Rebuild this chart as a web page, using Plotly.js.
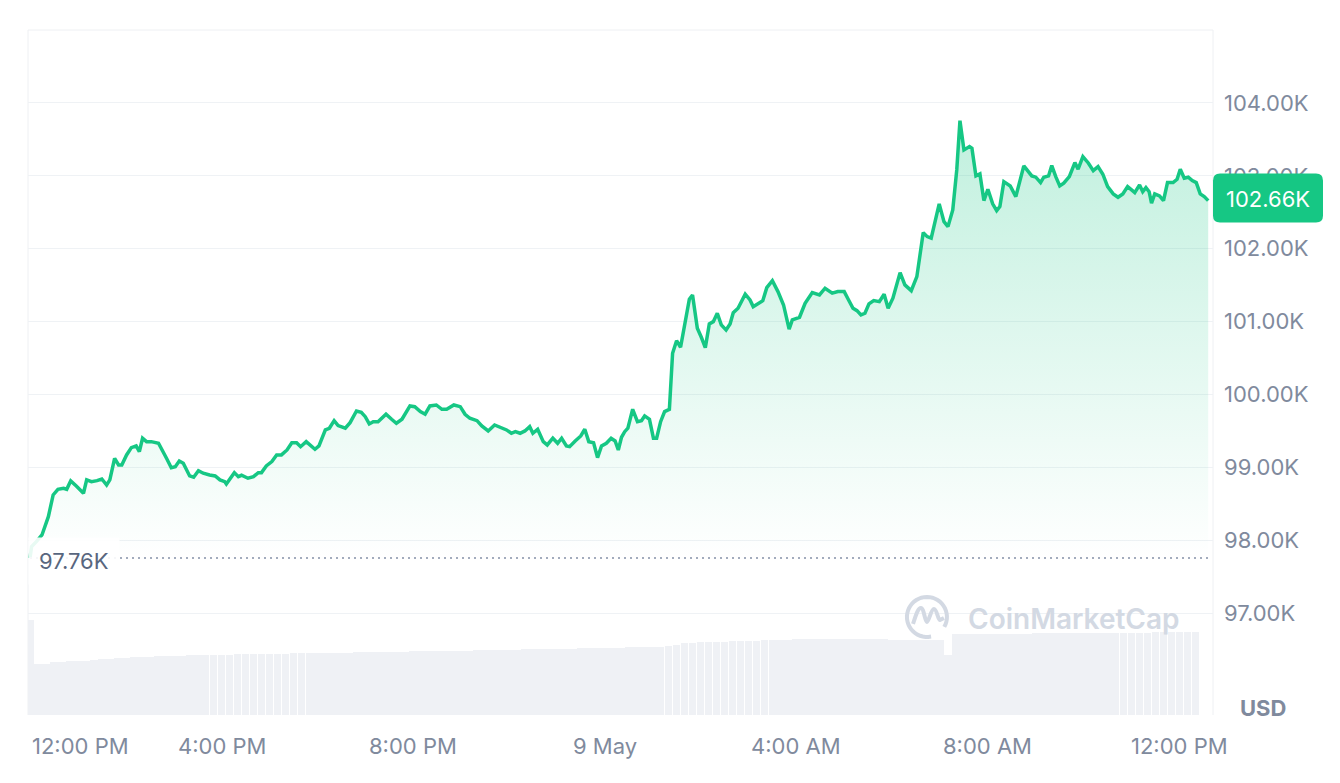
<!DOCTYPE html>
<html><head><meta charset="utf-8">
<script src="https://cdn.plot.ly/plotly-3.0.1.min.js"></script>
<style>html,body{margin:0;padding:0;background:#fff;}#chart{width:1340px;height:783px;}</style>
</head><body><div id="chart"></div>
<script>
// minutes after 8 May 12:00 PM
const priceMinutes = [0,2,8,15,23,29,35,42,46,51,58,67,71,77,84,90,96,100,106,111,115,121,127,133,137,141,146,152,161,167,171,177,182,187,192,200,205,211,217,225,232,238,244,
246,256,261,265,273,280,286,290,296,303,309,315,322,328,334,339,346,351,357,362,370,375,381,386,395,401,409,415,420,425,430,436,446,453,459,466,471,476,482,489,
495,501,509,516,522,531,539,545,551,560,566,574,582,591,597,603,608,614,620,626,630,636,643,648,655,661,666,672,676,683,690,695,700,706,711,716,722,728,733,737,741,745,
749,755,761,766,770,776,781,785,790,795,801,805,810,815,820,826,830,836,841,846,851,856,861,866,872,877,881,887,896,902,906,912,918,923,930,937,944,951,955,964,971,980,989,996,
1005,1012,1020,1025,1031,1036,1041,1046,1051,1057,1064,1070,1075,1081,1090,1096,1104,1111,1119,1124,1129,1139,1145,1150,1156,1161,1165,1170,1177,1180,1185,1190,1195,1200,1206,1211,1215,1220,1228,1235,1240,
1245,1255,1260,1266,1270,1276,1280,1285,1290,1295,1302,1309,1313,1319,1326,1332,1338,1344,1350,1357,1363,1369,1375,1380,1384,1390,1394,1398,1402,1405,1409,1415,1420,1425,1432,1437,1441,1446,1451,1456,1461,1466,1471,1476];
const priceValues = [97760,97914,97982,98074,98325,98623,98701,98715,98701,98815,98746,98646,98829,98805,98819,98842,98760,98829,99126,99034,99034,99172,99272,99295,99217,99401,99354,99354,99332,99195,99126,98997,99011,99089,99058,98884,98866,98956,98921,98897,98884,98829,98805,
98774,98929,98874,98893,98852,98874,98929,98929,99021,99080,99172,99172,99240,99340,99340,99285,99354,99309,99250,99295,99515,99538,99642,99574,99538,99615,99775,99757,99697,99597,99628,99628,99730,99661,99606,99661,99744,99844,99834,99766,
99730,99844,99857,99798,99798,99857,99834,99730,99675,99642,99569,99501,99583,99546,99515,99469,99491,99469,99501,99560,99469,99524,99354,99309,99401,99332,99401,99295,99285,99364,99432,99524,99354,99340,99135,99295,99332,99401,99364,99240,99414,99491,
99538,99798,99628,99642,99707,99661,99401,99401,99628,99766,99798,100567,100739,100649,100932,101307,101366,100910,100786,100643,100969,101000,101115,100955,100886,100969,101123,101184,101376,101298,101206,101243,101288,101466,101562,101412,101229,100896,101023,101060,101252,101398,101366,101458,
101390,101412,101412,101307,101184,101151,101092,101115,101243,101288,101274,101376,101184,101321,101672,101504,101425,101617,102221,102166,102144,102615,102372,102303,102532,103081,103757,103355,103401,103379,102999,103026,102660,102816,102615,102523,102578,102920,102861,102715,102934,
103136,102999,102981,102907,102981,102999,103140,102989,102861,102899,102989,103181,103091,103263,103173,103071,103126,103022,102852,102752,102706,102752,102852,102807,102770,102875,102783,102838,102783,102624,102752,102724,102660,102907,102907,102953,103091,102967,102981,102934,102907,102752,102715,102660];
// volume bars, one every 10 minutes (relative units)
const volumeValues = [95,51,51,53,53,54,54,54,55,56,56,57,57,58,58,58,59,59,59,59,60,60,60,60,60,60,61,61,61,61,61,
61,61,62,62,62,62,62,62,62,62,63,63,63,63,63,63,63,64,64,64,64,64,64,64,64,65,65,65,65,65,
65,66,66,66,66,66,66,66,67,67,67,67,67,67,68,68,68,68,68,69,70,72,72,73,73,73,73,74,74,74,
74,75,75,75,75,76,76,76,76,76,76,76,76,76,76,76,76,75,75,75,75,75,75,75,60,81,
81,81,81,81,81,81,81,81,81,82,82,82,82,82,82,82,82,82,82,82,82,82,82,82,83,83,83,83,83,83];
const volumeStepMinutes = 10;
const openPrice = 97760;
const lastPrice = 102660;
const yTickVals = [97000,98000,99000,100000,101000,102000,103000,104000];
const yTickText = ['97.00K','98.00K','99.00K','100.00K','101.00K','102.00K','103.00K','104.00K'];
const xTickMinutes = [0,240,480,720,960,1200,1440];
const xTickText = ['12:00 PM','4:00 PM','8:00 PM','9 May','4:00 AM','8:00 AM','12:00 PM'];

function toStamp(min){
  const base = Date.UTC(2025,4,8,12,0,0);
  return new Date(base + min*60000).toISOString().slice(0,19).replace('T',' ');
}
const px = priceMinutes.map(toStamp);
const vx = volumeValues.map((v,i)=>toStamp(i*volumeStepMinutes));
const endStamp = px[px.length-1];

const FONT = 'Inter, "Noto Sans", sans-serif';
const TICKC = '#808a9d';
const GREEN = '#16c784';
const FS = 22;

const traces = [
  {type:'bar', x:vx, y:volumeValues, yaxis:'y2', width:volumeStepMinutes*60000*0.97,
   marker:{color:'#eff1f5', line:{width:0}}, hoverinfo:'skip', showlegend:false},
  {type:'scatter', mode:'lines', x:[px[0], endStamp], y:[openPrice, openPrice],
   line:{width:0, color:'rgba(0,0,0,0)'}, hoverinfo:'skip', showlegend:false},
  {type:'scatter', mode:'lines', x:px, y:priceValues, fill:'tonexty',
   fillgradient:{type:'vertical', start:openPrice, stop:104000,
     colorscale:[[0,'rgba(22,199,132,0)'],[1,'rgba(22,199,132,0.28)']]},
   line:{color:GREEN, width:3.5, shape:'linear'}, hoverinfo:'skip', showlegend:false}
];

// logo ring path (decoration)
let ring = '';
for(let a=-30; a<=285; a+=8){
  const r = 20, rad = a*Math.PI/180;
  ring += (ring ? ' L ' : 'M ') + (r*Math.cos(rad)).toFixed(2) + ',' + (r*Math.sin(rad)).toFixed(2);
}
const mPath = 'M -14,-7 C -11,2 -9,9 -6,9 C -3,9 -2,-5 0,-5 C 2,-5 4,8 7,8 C 10,8 11,-3 13,-3 L 17,-1';

const annotations = xTickMinutes.map((m,i)=>({
  xref:'x', x:toStamp(m), yref:'paper', y:0, yanchor:'middle', yshift:-31,
  xanchor: i===0 ? 'left' : 'center', showarrow:false, text:xTickText[i],
  font:{family:FONT, size:FS, color:TICKC}
}));
annotations.push(
  {xref:'paper', x:0, xanchor:'left', yref:'y', y:openPrice, yanchor:'middle', yshift:-3,
   text:(openPrice/1000).toFixed(2)+'K', showarrow:false, bgcolor:'rgba(255,255,255,0.9)', borderpad:10,
   font:{family:FONT, size:FS, color:'#58667e'}},
  {xref:'paper', x:1, xanchor:'center', xshift:55, yref:'y', y:lastPrice, yanchor:'middle', yshift:2,
   text:(lastPrice/1000).toFixed(2)+'K', showarrow:false, font:{family:FONT, size:FS, color:'#ffffff'}},
  {xref:'paper', x:1, xanchor:'center', xshift:50, yref:'paper', y:0, yanchor:'middle', yshift:7,
   text:'USD', showarrow:false, font:{family:FONT, size:FS, color:TICKC, weight:700}},
  {xref:'paper', x:0.8827, xanchor:'center', yref:'paper', y:0.1401, yanchor:'middle',
   text:'CoinMarketCap', showarrow:false, font:{family:FONT, size:28, color:'#d3d9e3', weight:600}}
);

const shapes = [
  {type:'path', xref:'paper', yref:'paper', path:'M 0,0 L 0,1 L 1,1 L 1,0', line:{color:'#eef0f3', width:1}, layer:'below'},
  {type:'line', xref:'x', yref:'y', x0:px[0], x1:endStamp, y0:openPrice, y1:openPrice,
   line:{color:'#a3acbd', width:2, dash:'2px,4px'}, layer:'above'},
  {type:'path', xref:'paper', xsizemode:'pixel', xanchor:1, yref:'y', ysizemode:'pixel', yanchor:lastPrice,
   path:'M 7,-22 L 103,-22 Q 110,-22 110,-15 L 110,20 Q 110,27 103,27 L 7,27 Q 0,27 0,20 L 0,-15 Q 0,-22 7,-22 Z',
   fillcolor:GREEN, line:{width:0}, layer:'above'},
  {type:'path', xref:'paper', xsizemode:'pixel', xanchor:0.7586, yref:'paper', ysizemode:'pixel', yanchor:0.1431,
   path:ring, fillcolor:'rgba(0,0,0,0)', line:{color:'#d3d9e3', width:4}, layer:'above'},
  {type:'path', xref:'paper', xsizemode:'pixel', xanchor:0.7586, yref:'paper', ysizemode:'pixel', yanchor:0.1431,
   path:mPath, fillcolor:'rgba(0,0,0,0)', line:{color:'#d3d9e3', width:4}, layer:'above'}
];

const layout = {
  width:1340, height:783, margin:{l:28, r:127, t:30, b:68},
  paper_bgcolor:'#ffffff', plot_bgcolor:'#ffffff', showlegend:false, hovermode:false,
  bargap:0,
  xaxis:{type:'date', range:[toStamp(-2.5), toStamp(1482)], showgrid:false, zeroline:false,
    showline:false, showticklabels:false, ticks:'', fixedrange:true},
  yaxis:{side:'right', range:[95605,105000], tickmode:'array', tickvals:yTickVals, ticktext:yTickText,
    showgrid:true, gridcolor:'#eff2f5', gridwidth:1, zeroline:false, showline:false, ticks:'',
    ticklabelstandoff:10, tickfont:{family:FONT, size:FS, color:TICKC}, fixedrange:true},
  yaxis2:{overlaying:'y', range:[0,685], visible:false, fixedrange:true},
  annotations:annotations, shapes:shapes
};
Plotly.newPlot('chart', traces, layout, {displayModeBar:false, staticPlot:true});
</script></body></html>
